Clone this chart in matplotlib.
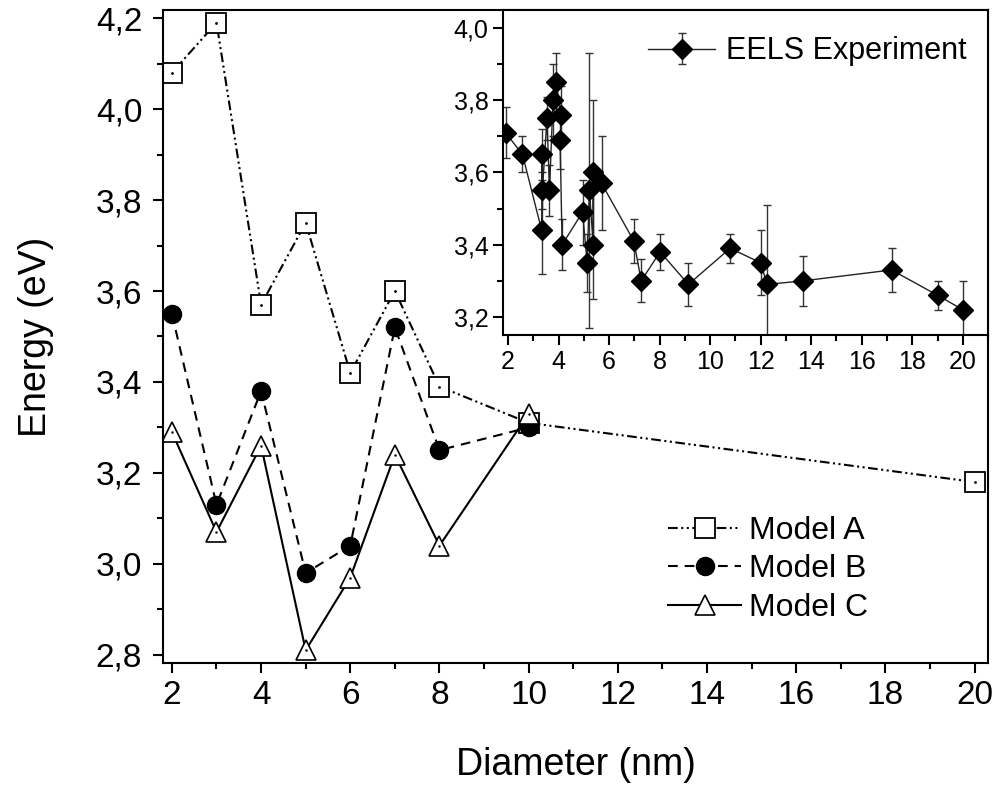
import matplotlib
matplotlib.use('Agg')
import matplotlib.pyplot as plt
from matplotlib.ticker import MultipleLocator, FuncFormatter

# main panel: calculated energies vs diameter
diameter_a = [2, 3, 4, 5, 6, 7, 8, 10, 20]
model_a = [4.08, 4.19, 3.57, 3.75, 3.42, 3.60, 3.39, 3.31, 3.18]
diameter_bc = [2, 3, 4, 5, 6, 7, 8, 10]
model_b = [3.55, 3.13, 3.38, 2.98, 3.04, 3.52, 3.25, 3.30]
model_c = [3.29, 3.07, 3.26, 2.81, 2.97, 3.24, 3.04, 3.33]

# inset: EELS experiment
eels_d = [1.90, 2.57, 3.33, 3.35, 3.36, 3.54, 3.64, 3.78, 3.90, 4.11, 4.06, 4.14,
          4.95, 5.13, 5.22, 5.37, 5.35, 5.70, 6.98, 7.27, 8.02, 9.14, 10.79,
          12.00, 12.25, 13.69, 17.18, 19.00, 20.00]
eels_e = [3.71, 3.65, 3.44, 3.65, 3.55, 3.75, 3.55, 3.80, 3.85, 3.76, 3.69, 3.40,
          3.49, 3.35, 3.55, 3.40, 3.60, 3.57, 3.41, 3.30, 3.38, 3.29, 3.39,
          3.35, 3.29, 3.30, 3.33, 3.26, 3.22]
eels_err = [0.07, 0.05, 0.12, 0.07, 0.05, 0.06, 0.07, 0.10, 0.08, 0.08, 0.08, 0.07,
            0.09, 0.08, 0.38, 0.15, 0.20, 0.13, 0.06, 0.06, 0.05, 0.06, 0.04,
            0.09, 0.22, 0.07, 0.06, 0.04, 0.08]

plt.rcParams['font.family'] = ['Liberation Sans', 'DejaVu Sans']
plt.rcParams['lines.scale_dashes'] = False

comma = FuncFormatter(lambda v, p: f"{v:.1f}".replace('.', ','))


def style_axes(ax, size):
    for s in ax.spines.values():
        s.set_linewidth(1.5)
    ax.tick_params(which='major', direction='out', length=7, width=1.5, labelsize=size)
    ax.tick_params(which='minor', direction='out', length=4, width=1.5)


fig = plt.figure(figsize=(10.03, 7.91), dpi=100)
ax = fig.add_axes([0.1625, 0.1618, 0.8225, 0.8256])

ax.plot(diameter_a, model_a, color='k', lw=1.5, dashes=(7, 2.5, 1.5, 2.5, 1.5, 2.5),
        marker='s', ms=15, mfc='white', mec='k', mew=1.3, label='Model A')
ax.plot(diameter_a, model_a, ls='none', marker='.', ms=2, color='k')
ax.plot(diameter_bc, model_b, color='k', lw=1.5, dashes=(7, 5),
        marker='o', ms=13, mfc='k', mec='k', label='Model B')
ax.plot(diameter_bc, model_c, color='k', lw=1.5, ls='-',
        marker='^', ms=14, mfc='white', mec='k', mew=1.2, label='Model C')
ax.plot(diameter_bc, model_c, ls='none', marker='.', ms=1.5, color='k')

ax.set_xlim(1.8, 20.3)
ax.set_ylim(2.782, 4.218)
ax.xaxis.set_major_locator(MultipleLocator(2))
ax.xaxis.set_minor_locator(MultipleLocator(1))
ax.yaxis.set_major_locator(MultipleLocator(0.2))
ax.yaxis.set_minor_locator(MultipleLocator(0.1))
ax.yaxis.set_major_formatter(comma)
style_axes(ax, 24)
ax.tick_params(axis='y', which='major', pad=8)
ax.tick_params(axis='x', which='major', pad=5)
ax.set_xlabel('Diameter (nm)', fontsize=27, labelpad=26)
ax.set_ylabel('Energy (eV)', fontsize=27, labelpad=30)

ax.legend(loc='upper left', bbox_to_anchor=(0.666, 0.348), bbox_transform=fig.transFigure,
          frameon=False, fontsize=23, handlelength=2.3, handletextpad=0.25,
          labelspacing=0.27, borderpad=0, borderaxespad=0, numpoints=1)

# inset
axi = fig.add_axes([0.5015, 0.5765, 0.4836, 0.411])
axi.errorbar(eels_d, eels_e, yerr=eels_err, color='#222222', lw=1.0, elinewidth=1.0,
             ecolor='#333333', capsize=3, capthick=1.0, marker='D', ms=10,
             mfc='k', mec='k', label='EELS Experiment')
axi.set_xlim(1.8, 21.0)
axi.set_ylim(3.15, 4.05)
axi.xaxis.set_major_locator(MultipleLocator(2))
axi.xaxis.set_minor_locator(MultipleLocator(1))
axi.yaxis.set_major_locator(MultipleLocator(0.2))
axi.yaxis.set_minor_locator(MultipleLocator(0.1))
axi.yaxis.set_major_formatter(comma)
style_axes(axi, 18)
axi.legend(loc='center left', bbox_to_anchor=(0.646, 0.935), bbox_transform=fig.transFigure,
           frameon=False, fontsize=22, handlelength=2.2, handletextpad=0.36,
           borderpad=0, borderaxespad=0, numpoints=1)

fig.savefig('out.png', dpi=100)
